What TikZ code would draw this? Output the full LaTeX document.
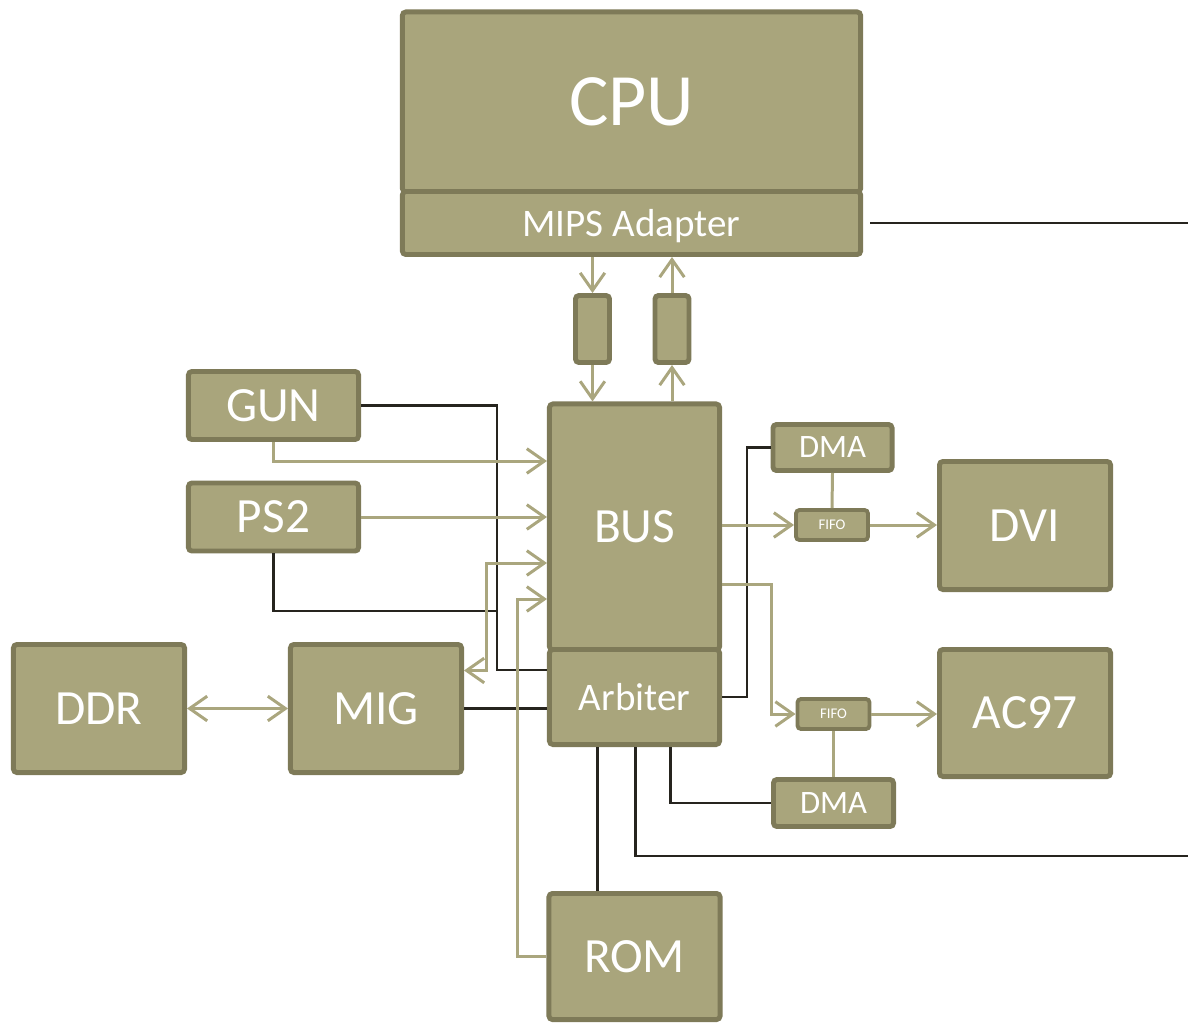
\documentclass[tikz,border=0pt]{standalone}
\usepackage{fontspec}
\setmainfont{Carlito}
\usetikzlibrary{arrows.meta,calc}
\definecolor{blockfill}{RGB}{169,165,124}
\definecolor{blockdraw}{RGB}{126,122,88}
\definecolor{linkcol}{RGB}{170,166,126}
\definecolor{wirecol}{RGB}{38,36,30}
\begin{document}
\begin{tikzpicture}[
  x=0.01cm, y=-0.01cm,
  blk/.style={draw=blockdraw, fill=blockfill, line width=1.4pt, rounded corners=1pt, text=white, inner sep=0pt, align=center},
  unit/.style={blk, minimum width=1.71cm, minimum height=1.28cm, font=\fontsize{14}{16}\selectfont},
  port/.style={blk, minimum width=1.70cm, minimum height=0.68cm, font=\fontsize{14}{16}\selectfont},
  dmabox/.style={blk, minimum width=1.19cm, minimum height=0.46cm, font=\fontsize{9.3}{11}\selectfont},
  fifobox/.style={blk, line width=1.1pt, minimum width=0.72cm, minimum height=0.30cm, font=\fontsize{4.2}{5}\selectfont},
  bufbox/.style={blk, minimum width=0.34cm, minimum height=0.67cm},
  wire/.style={draw=wirecol, line width=0.7pt},
  link/.style={draw=linkcol, line width=0.85pt},
  >={Straight Barb[length=5pt,width=7pt]}
]
\useasboundingbox (0,0) rectangle (1188,1024);

\node[blk, minimum width=4.58cm, minimum height=1.80cm, font=\fontsize{21}{24}\selectfont] (cpu) at (631.5,102) {CPU};
\node[blk, minimum width=4.58cm, minimum height=0.63cm, text depth=0pt, font=\fontsize{11.1}{13}\selectfont] (mips) at (631.5,223) {MIPS Adapter};

\node[bufbox] (bufA) at (592.5,329) {};
\node[bufbox] (bufB) at (672,329) {};

\node[blk, minimum width=1.70cm, minimum height=2.46cm, font=\fontsize{14}{16}\selectfont] (bus) at (634.5,527) {BUS};
\node[blk, minimum width=1.70cm, minimum height=0.95cm, text depth=0pt, font=\fontsize{11.1}{13}\selectfont] (arb) at (634.5,697) {Arbiter};

\node[port] (gun) at (273.5,405.5) {GUN};
\node[port] (ps2) at (273.5,517) {PS2};
\node[unit] (ddr) at (99,708.5) {DDR};
\node[unit] (mig) at (376,708.5) {MIG};
\node[unit, minimum height=1.26cm] (rom) at (634.5,956.5) {ROM};

\node[dmabox] (dmaA) at (832.5,447.5) {DMA};
\node[fifobox] (fifoA) at (832,525) {FIFO};
\node[unit] (dvi) at (1025,525.5) {DVI};
\node[fifobox] (fifoB) at (833.5,714) {FIFO};
\node[unit, minimum height=1.27cm] (ac97) at (1025,713) {AC97};
\node[dmabox, minimum width=1.20cm, minimum height=0.47cm] (dmaB) at (833.5,803) {DMA};

\coordinate (outA) at (1188,223);
\coordinate (outB) at (1188,856);
\coordinate (joint) at (497,611);

\draw[wire] ([xshift=2pt]mips.east) -- (outA);
\draw[wire] (gun.east) -| (497,670) -- ($(arb.west)+(0,-27)$);
\draw[wire] (ps2.south) |- (joint);
\draw[wire] (mig.east) -- (mig.east -| arb.west);
\draw[wire] (arb.east) -- ++(25,0) |- (dmaA.west);
\draw[wire] ($(arb.south)+(-37,0)$) -- ($(rom.north)+(-37,0)$);
\draw[wire] ($(arb.south)+(1,0)$) |- (outB);
\draw[wire] ($(arb.south)+(36,0)$) |- (dmaB.west);

\draw[link,->] (bufA.north |- mips.south) -- (bufA.north);
\draw[link,->] (bufA.south) -- (bufA.south |- bus.north);
\draw[link,->] (bufB.south |- bus.north) -- (bufB.south);
\draw[link,->] (bufB.north) -- (bufB.north |- mips.south);

\draw[link,->] (gun.south) |- ($(bus.west)+(0,-66)$);
\draw[link,->] (ps2.east) -- (ps2.east -| bus.west);
\draw[link,<->] ($(mig.east)+(0,-38)$) -| (486,563) -- ($(bus.west)+(0,36)$);
\draw[link,->] (rom.west) -| (517,599) -- ($(bus.west)+(0,72)$);
\draw[link,<->] (ddr.east) -- (mig.west);

\draw[link,->] (fifoA.west -| bus.east) -- (fifoA.west);
\draw[link,->] (fifoA.east) -- (fifoA.east -| dvi.west);
\draw[link] (dmaA.south) -- (fifoA.north);
\draw[link,->] ($(bus.east)+(0,57)$) -| ($(fifoB.west)+(-24,0)$) -- (fifoB.west);
\draw[link,->] (fifoB.east) -- (fifoB.east -| ac97.west);
\draw[link] (fifoB.south) -- (fifoB.south |- dmaB.north);
\end{tikzpicture}
\end{document}
